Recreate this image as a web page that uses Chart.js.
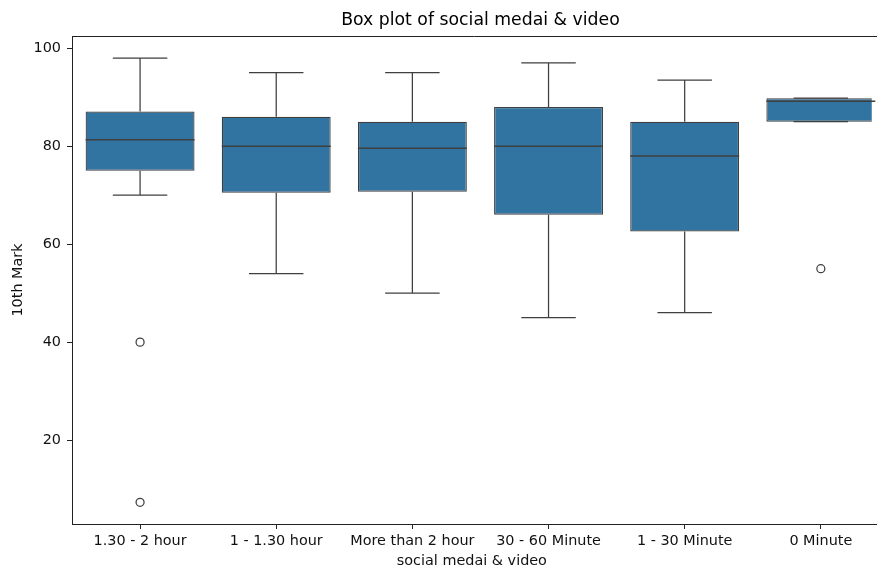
<!DOCTYPE html>
<html>
<head>
<meta charset="utf-8">
<script src="https://cdn.jsdelivr.net/npm/chart.js@4/dist/chart.umd.min.js"></script>
<style>
  html, body { margin: 0; padding: 0; background: #fff; overflow: hidden; }
  #wrap { width: 877px; height: 568px; }
</style>
</head>
<body>
<div id="wrap"><canvas id="boxChart"></canvas></div>
<script>
// categories and box stats
const categories = ["1.30 - 2 hour", "1 - 1.30 hour", "More than 2 hour", "30 - 60 Minute", "1 - 30 Minute", "0 Minute"];
const whiskerLow = [70, 54, 50, 45, 46, 85];
const q1Values = [75, 70.5, 70.7, 66, 62.6, 85];
const medians = [81.3, 80, 79.6, 80, 78, 89.2];
const q3Values = [87.1, 86, 85, 88, 85, 89.8];
const whiskerHigh = [98, 95, 95, 97, 93.5, 89.8];
// outliers: [category index, value]
const outlierCats = [0, 0, 5];
const outlierValues = [40, 7.3, 55];
const yTicks = [20, 40, 60, 80, 100];
const chartTitle = "Box plot of social medai & video";

// the original axes run a bit past the right edge of the picture
const xMin = -0.5;
const xMax = 5.374;

const lineColor = "#3f3f3f";
const boxColor = "#3274a1";
const fontFamily = "'DejaVu Sans', sans-serif";

// whiskers go behind the boxes, medians on top
const boxParts = {
    id: "boxParts",
    beforeDatasetsDraw(chart) {
        const { ctx, scales: { x, y } } = chart;
        const bars = chart.getDatasetMeta(0).data;
        ctx.save();
        ctx.strokeStyle = lineColor;
        ctx.lineWidth = 1.25;
        categories.forEach((cat, i) => {
            const cx = x.getPixelForValue(i);
            const capHalf = bars[i].width / 4;
            ctx.beginPath();
            ctx.moveTo(cx, y.getPixelForValue(whiskerLow[i]));
            ctx.lineTo(cx, y.getPixelForValue(q1Values[i]));
            ctx.moveTo(cx, y.getPixelForValue(q3Values[i]));
            ctx.lineTo(cx, y.getPixelForValue(whiskerHigh[i]));
            ctx.moveTo(cx - capHalf, y.getPixelForValue(whiskerLow[i]));
            ctx.lineTo(cx + capHalf, y.getPixelForValue(whiskerLow[i]));
            ctx.moveTo(cx - capHalf, y.getPixelForValue(whiskerHigh[i]));
            ctx.lineTo(cx + capHalf, y.getPixelForValue(whiskerHigh[i]));
            ctx.stroke();
        });
        ctx.restore();
    },
    afterDatasetsDraw(chart) {
        const { ctx, chartArea, scales: { x, y } } = chart;
        const bars = chart.getDatasetMeta(0).data;
        ctx.save();
        ctx.strokeStyle = lineColor;
        ctx.lineWidth = 1.5;
        categories.forEach((cat, i) => {
            const cx = x.getPixelForValue(i);
            const half = bars[i].width / 2;
            const my = y.getPixelForValue(medians[i]);
            ctx.beginPath();
            ctx.moveTo(cx - half, my);
            ctx.lineTo(cx + half, my);
            ctx.stroke();
        });
        // top spine, and run both spines to the picture edge
        ctx.strokeStyle = "#222";
        ctx.lineWidth = 1;
        ctx.beginPath();
        ctx.moveTo(chartArea.left, chartArea.top + 0.5);
        ctx.lineTo(chart.width, chartArea.top + 0.5);
        ctx.moveTo(chartArea.right - 1, chartArea.bottom + 0.5);
        ctx.lineTo(chart.width, chartArea.bottom + 0.5);
        ctx.stroke();
        // title centred over the full axes, like matplotlib
        const midX = (x.getPixelForValue(xMin) + x.getPixelForValue(categories.length - 0.5)) / 2;
        ctx.fillStyle = "#000";
        ctx.font = "17.3px " + fontFamily;
        ctx.textAlign = "center";
        ctx.textBaseline = "middle";
        ctx.fillText(chartTitle, midX, 20.5);
        ctx.restore();
    }
};

const ctx = document.getElementById("boxChart").getContext("2d");
const boxChart = new Chart(ctx, {
    type: "bar",
    data: {
        datasets: [{
            label: "box",
            data: categories.map((c, i) => ({ x: i, y: [q1Values[i], q3Values[i]] })),
            backgroundColor: boxColor,
            borderColor: lineColor,
            borderWidth: 1.25,
            borderSkipped: false,
            categoryPercentage: 0.8,
            barPercentage: 1.0
        }, {
            type: "line",
            label: "outliers",
            data: outlierCats.map((c, i) => ({ x: c, y: outlierValues[i] })),
            showLine: false,
            pointRadius: 4,
            pointBackgroundColor: "rgba(255,255,255,0)",
            pointBorderColor: lineColor,
            pointBorderWidth: 1.25
        }]
    },
    options: {
        responsive: true,
        maintainAspectRatio: false,
        animation: false,
        layout: { padding: { top: 36, left: 0, bottom: 0, right: 0 } },
        plugins: {
            legend: { display: false },
            tooltip: { enabled: false },
            title: { display: false }
        },
        scales: {
            x: {
                type: "linear",
                min: xMin,
                max: xMax,
                offset: false,
                grid: { display: true, drawOnChartArea: false, offset: false, tickLength: 5, color: "#222" },
                border: { color: "#222", width: 1 },
                ticks: {
                    color: "#111",
                    padding: 4,
                    maxRotation: 0,
                    autoSkip: false,
                    font: { family: fontFamily, size: 14.4 },
                    callback: (v) => categories[v]
                },
                afterBuildTicks(scale) { scale.ticks = categories.map((c, i) => ({ value: i })); },
                title: {
                    display: true,
                    text: "social medai & video",
                    color: "#111",
                    font: { family: fontFamily, size: 14.4, lineHeight: 0.88 },
                    padding: 0
                },
                afterFit(scale) {
                    scale.height = 44;
                    scale.paddingLeft = 0;
                    scale.paddingRight = 0;
                }
            },
            y: {
                min: 2.87,
                max: 102.5,
                grid: { display: true, drawOnChartArea: false, tickLength: 5, color: "#222" },
                border: { color: "#222", width: 1 },
                ticks: { color: "#111", padding: 6, font: { family: fontFamily, size: 14.4 } },
                afterBuildTicks(scale) { scale.ticks = yTicks.map(v => ({ value: v })); },
                title: {
                    display: true,
                    text: "10th Mark",
                    color: "#111",
                    font: { family: fontFamily, size: 14.4 },
                    padding: { top: 9.4, bottom: 0 }
                },
                afterFit(scale) { scale.width = 72; }
            }
        }
    },
    plugins: [boxParts]
});
</script>
</body>
</html>
